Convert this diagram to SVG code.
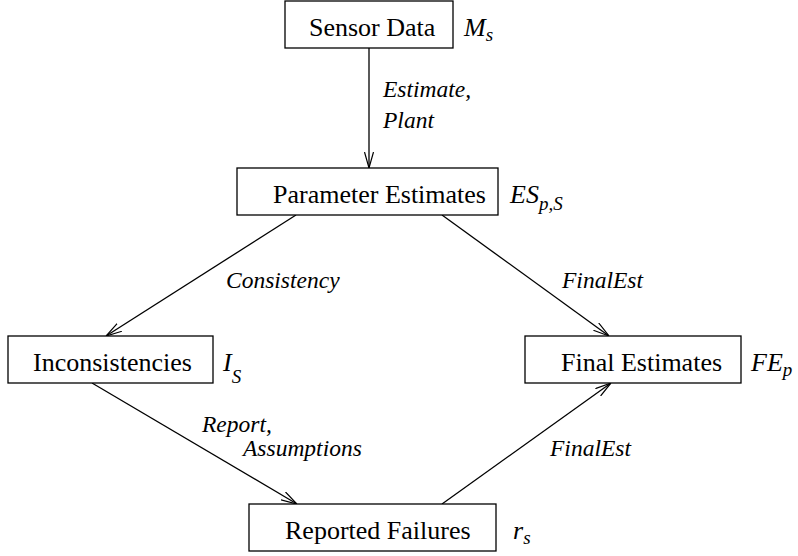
<svg xmlns="http://www.w3.org/2000/svg" width="798" height="556" viewBox="0 0 798 556">
  <defs>
    <marker id="arrow" viewBox="0 0 16 10" refX="16" refY="5" markerWidth="16" markerHeight="10" markerUnits="userSpaceOnUse" orient="auto">
      <path d="M0,0.5 L16,5 L0,9.5" fill="none" stroke="#000" stroke-width="1.2"/>
    </marker>
  </defs>
  <style>
    .box { fill: #fff; stroke: #000; stroke-width: 1.3; }
    .name { font-family: "Liberation Serif", "Times New Roman", serif; font-size: 26px; fill: #000; }
    .sym { font-family: "Liberation Serif", "Times New Roman", serif; font-style: italic; font-size: 26px; fill: #000; }
    .sub { font-size: 19px; }
    .lbl { font-family: "Liberation Serif", "Times New Roman", serif; font-style: italic; font-size: 23.5px; fill: #000; }
    .edge { fill: none; stroke: #000; stroke-width: 1.3; marker-end: url(#arrow); }
  </style>

  <rect width="798" height="556" fill="#fff"/>

  <!-- connectors -->
  <g id="connectors">
    <line class="edge" x1="369" y1="48" x2="369" y2="168"/>
    <line class="edge" x1="296" y1="215" x2="106" y2="336"/>
    <line class="edge" x1="442" y1="215" x2="609" y2="336"/>
    <line class="edge" x1="92" y1="383" x2="297" y2="504"/>
    <line class="edge" x1="442" y1="504" x2="611" y2="383"/>
    <text class="lbl" x="383" y="97">Estimate,</text>
    <text class="lbl" x="383" y="128">Plant</text>
    <text class="lbl" x="226" y="288">Consistency</text>
    <text class="lbl" x="562" y="288">FinalEst</text>
    <text class="lbl" x="202" y="432">Report,</text>
    <text class="lbl" x="243" y="456">Assumptions</text>
    <text class="lbl" x="550" y="456">FinalEst</text>
  </g>

  <!-- nodes -->
  <g id="sensor-data">
    <rect class="box" x="285" y="1" width="168" height="47"/>
    <text class="name" x="309" y="36">Sensor Data</text>
    <text class="sym" x="464" y="36">M<tspan class="sub" dy="5">s</tspan></text>
  </g>

  <g id="parameter-estimates">
    <rect class="box" x="237" y="168" width="261" height="47"/>
    <text class="name" x="273" y="203">Parameter Estimates</text>
    <text class="sym" x="510" y="203">ES<tspan class="sub" dy="7">p,S</tspan></text>
  </g>

  <g id="inconsistencies">
    <rect class="box" x="8" y="336" width="205" height="47"/>
    <text class="name" x="33" y="371">Inconsistencies</text>
    <text class="sym" x="223" y="371">I<tspan class="sub" dy="12">S</tspan></text>
  </g>

  <g id="final-estimates">
    <rect class="box" x="525" y="336" width="216" height="47"/>
    <text class="name" x="561" y="371">Final Estimates</text>
    <text class="sym" x="751" y="371">FE<tspan class="sub" dy="5">p</tspan></text>
  </g>

  <g id="reported-failures">
    <rect class="box" x="249" y="504" width="247" height="47"/>
    <text class="name" x="285" y="539">Reported Failures</text>
    <text class="sym" x="513" y="539">r<tspan class="sub" dy="5">s</tspan></text>
  </g>
</svg>
